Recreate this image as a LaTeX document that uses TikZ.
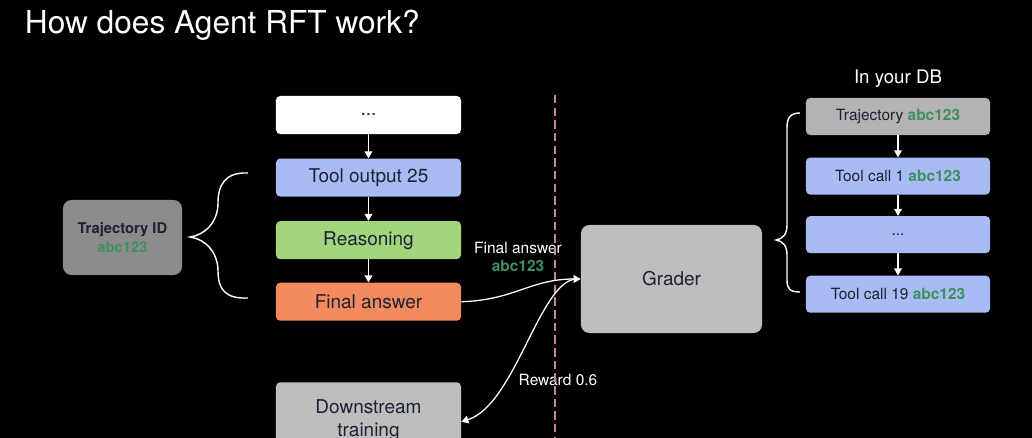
\documentclass[tikz,border=0pt]{standalone}
\usepackage{xcolor}
\usepackage{fontspec}
\setmainfont{TeX Gyre Heros}
\usepackage{tikz}
\usetikzlibrary{arrows.meta,positioning}
\definecolor{ink}{HTML}{1C2233}
\definecolor{idgreen}{HTML}{3F8F60}
\definecolor{toolblue}{HTML}{A8BBF2}
\definecolor{reasongreen}{HTML}{A2D67C}
\definecolor{answerorange}{HTML}{F58A5E}
\definecolor{darkgrey}{HTML}{8B8B8B}
\definecolor{lightgrey}{HTML}{BEBEBE}
\definecolor{dbgrey}{HTML}{B3B3B3}
\definecolor{cutline}{HTML}{C08A90}
\newcommand{\idtag}{\textbf{\textcolor{idgreen}{abc123}}}
\tikzset{
  stepbox/.style={
    rounded corners=3pt, minimum width=4.625cm, minimum height=0.95cm,
    align=center, text=ink, font=\fontsize{13.5}{16.3}\selectfont
  },
  dbbox/.style={
    rounded corners=3pt, fill=toolblue, minimum width=4.6cm,
    minimum height=0.925cm, align=center, text=ink,
    font=\fontsize{11}{13}\selectfont
  },
  note/.style={text=white, align=center, font=\fontsize{11}{13.2}\selectfont},
  flow/.style={-{Triangle[width=5.5pt,length=5pt]}, white, line width=0.9pt},
  brace/.style={white, line width=1pt},
}

\begin{document}
\begin{tikzpicture}[x=0.025cm, y=-0.025cm]
    \useasboundingbox (0,0) rectangle (1032,438);
    \fill[black] (0,0) rectangle (1032,438);

    \node[anchor=base west, text=white, font=\fontsize{22.5}{27}\selectfont]
      (title) at (20,34) {How does Agent RFT work?};

    % left: one trajectory
    \node[stepbox, fill=white] (dots) at (368.5,115) {...};
    \node[stepbox, fill=toolblue, below=0.6cm of dots] (tool) {Tool output 25};
    \node[stepbox, fill=reasongreen, below=0.6cm of tool] (reason) {Reasoning};
    \node[stepbox, fill=answerorange, below=0.575cm of reason] (final) {Final answer};
    \node[stepbox, fill=lightgrey, minimum height=1.9cm, below=1.525cm of final]
      (downstream) {Downstream\\training};

    \node[rounded corners=6pt, fill=darkgrey, minimum width=2.975cm,
      minimum height=1.875cm, align=center, text=ink,
      font=\fontsize{10.5}{13}\selectfont] (trajid) at (122.5,237.5)
      {\textbf{Trajectory ID}\\\idtag};

    \node[rounded corners=6pt, fill=lightgrey, minimum width=4.525cm,
      minimum height=2.7cm, text=ink, font=\fontsize{13.5}{16}\selectfont]
      (grader) at (671.5,279) {Grader};

    % right: in your DB
    \node[dbbox, fill=dbgrey] (dbtraj) at (898,116.5) {Trajectory \idtag};
    \node[dbbox, below=0.55cm of dbtraj] (call1) {Tool call 1 \idtag};
    \node[dbbox, below=0.525cm of call1] (calldots) {...};
    \node[dbbox, below=0.55cm of calldots] (call19) {Tool call 19 \idtag};
    \node[text=white, font=\fontsize{13.3}{16}\selectfont, above=0.12cm of dbtraj]
      (indb) {In your DB};

    \node[note] (answerlbl) at (518,257) {Final answer\\\idtag};
    \node[note] (rewardlbl) at (558,380) {Reward 0.6};

    % divider
    \coordinate (cuttop) at (555,95);
    \coordinate (cutbot) at (555,438);
    \draw[cutline, line width=1.1pt, dash pattern=on 6pt off 3pt] (cuttop) -- (cutbot);

    \draw[flow] (dots) -- (tool);
    \draw[flow] (tool) -- (reason);
    \draw[flow] (reason) -- (final);
    \draw[flow] (dbtraj) -- (call1);
    \draw[flow] (call1) -- (calldots);
    \draw[flow] (calldots) -- (call19);

    \draw[flow] (final.east) .. controls (515,300) and (530,279) .. (grader.west);
    \draw[flow] ([xshift=-3pt]grader.west) .. controls (540,280) and (515,405)
      .. ([yshift=-1pt]downstream.east);

    % braces
    \draw[brace] (248,173) .. controls (225,172) and (218,185) .. (218,203)
      .. controls (218,222) and (205,235) .. (190,237)
      .. controls (205,239) and (218,252) .. (218,271)
      .. controls (218,289) and (225,299) .. (248,298);
    \draw[brace] (800,113) .. controls (790,113) and (787,118) .. (787,128)
      -- (787,225) .. controls (787,234) and (783,239) .. (776,240)
      .. controls (783,241) and (787,246) .. (787,255)
      -- (787,280) .. controls (787,289) and (790,292) .. (800,292);
  \end{tikzpicture}
\end{document}
